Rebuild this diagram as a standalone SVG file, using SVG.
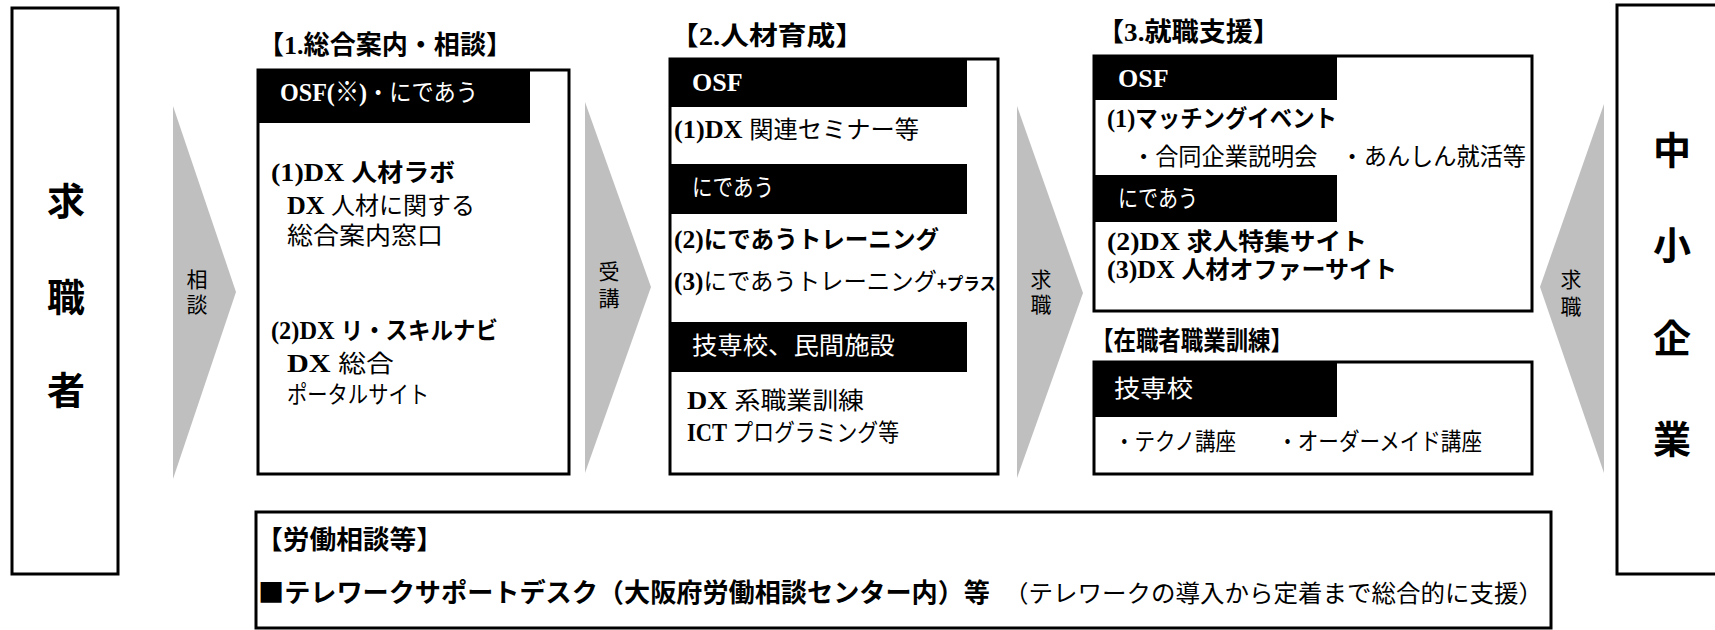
<svg xmlns="http://www.w3.org/2000/svg" width="1715" height="630" viewBox="0 0 1715 630">
<style>
.box{fill:#fff;stroke:#000;stroke-width:3}
.hdr{fill:#000}
.arrow{fill:#bfbfbf}
.t{font-family:'Noto Sans CJK JP',sans-serif;font-size:24px;fill:#000}
.b{font-weight:bold}
.s{font-family:'Liberation Serif','Noto Sans CJK JP',serif;font-weight:bold;font-size:26px}
.w{fill:#fff}
.title{font-family:'Noto Sans CJK JP',sans-serif;font-size:26px;font-weight:bold;fill:#000}
.big{font-family:'Noto Sans CJK JP',sans-serif;font-size:38px;font-weight:bold;fill:#000;text-anchor:middle}
.lbl{font-family:'Noto Sans CJK JP',sans-serif;font-size:21px;fill:#000;text-anchor:middle}
</style>
<g id="connectors">
<polygon class="arrow" points="173,106 236,292 173,479"/>
<polygon class="arrow" points="585,102 651,287 585,473"/>
<polygon class="arrow" points="1017,106 1083,293 1017,478"/>
<polygon class="arrow" points="1604,104 1540,287 1604,473"/>
<text class="lbl" x="197" y="287">相</text><text class="lbl" x="197" y="312">談</text>
<text class="lbl" x="609" y="279">受</text><text class="lbl" x="609" y="306">講</text>
<text class="lbl" x="1041" y="287">求</text><text class="lbl" x="1041" y="312">職</text>
<text class="lbl" x="1571" y="287">求</text><text class="lbl" x="1571" y="314">職</text>
</g>
<g id="jobseeker">
<rect class="box" x="12" y="8" width="106" height="566"/>
<text class="big" x="66" y="215">求</text>
<text class="big" x="66" y="311">職</text>
<text class="big" x="66" y="404">者</text>
</g>
<g id="sme">
<rect class="box" x="1617" y="5" width="110" height="569"/>
<text class="big" x="1672" y="164">中</text>
<text class="big" x="1672" y="259">小</text>
<text class="big" x="1672" y="352">企</text>
<text class="big" x="1672" y="453">業</text>
</g>
<g id="consult">
<text class="title" x="258" y="54" textLength="254" lengthAdjust="spacingAndGlyphs">【<tspan class="s">1.</tspan>総合案内・相談】</text>
<rect class="box" x="258" y="70" width="311" height="404"/>
<rect class="hdr" x="257" y="69" width="273" height="54"/>
<text class="t w" x="280" y="101" textLength="198" lengthAdjust="spacingAndGlyphs"><tspan class="s">OSF(※)</tspan>・にであう</text>
<text class="t b" x="271" y="181" textLength="184" lengthAdjust="spacingAndGlyphs"><tspan class="s">(1)DX </tspan>人材ラボ</text>
<text class="t" x="287" y="214" textLength="188" lengthAdjust="spacingAndGlyphs"><tspan class="s">DX </tspan>人材に関する</text>
<text class="t" x="287" y="244" textLength="156" lengthAdjust="spacingAndGlyphs">総合案内窓口</text>
<text class="t b" x="271" y="339" textLength="227" lengthAdjust="spacingAndGlyphs"><tspan class="s">(2)DX </tspan>リ・スキルナビ</text>
<text class="t" x="287" y="372" textLength="107" lengthAdjust="spacingAndGlyphs"><tspan class="s">DX </tspan>総合</text>
<text class="t" x="287" y="403" textLength="142" lengthAdjust="spacingAndGlyphs">ポータルサイト</text>
</g>
<g id="training">
<text class="title" x="670" y="45" textLength="194" lengthAdjust="spacingAndGlyphs">【<tspan class="s">2.</tspan>人材育成】</text>
<rect class="box" x="670" y="59" width="328" height="415"/>
<rect class="hdr" x="669" y="58" width="298" height="49"/>
<text class="t w s" x="692" y="91">OSF</text>
<text class="t" x="674" y="138" textLength="245" lengthAdjust="spacingAndGlyphs"><tspan class="s">(1)DX </tspan>関連セミナー等</text>
<rect class="hdr" x="669" y="164" width="298" height="50"/>
<text class="t w" x="692" y="196" textLength="82" lengthAdjust="spacingAndGlyphs">にであう</text>
<text class="t b" x="674" y="248" textLength="265" lengthAdjust="spacingAndGlyphs"><tspan class="s">(2)</tspan>にであうトレーニング</text>
<text class="t" x="674" y="290" textLength="322" lengthAdjust="spacingAndGlyphs"><tspan class="s">(3)</tspan>にであうトレーニング<tspan class="b" font-size="17">+プラス</tspan></text>
<rect class="hdr" x="669" y="322" width="298" height="50"/>
<text class="t w" x="692" y="354" textLength="203" lengthAdjust="spacingAndGlyphs">技専校、民間施設</text>
<text class="t" x="687" y="409" textLength="177" lengthAdjust="spacingAndGlyphs"><tspan class="s">DX </tspan>系職業訓練</text>
<text class="t" x="687" y="441" textLength="212" lengthAdjust="spacingAndGlyphs"><tspan class="s">ICT </tspan>プログラミング等</text>
</g>
<g id="employment">
<text class="title" x="1097" y="41" textLength="183" lengthAdjust="spacingAndGlyphs">【<tspan class="s">3.</tspan>就職支援】</text>
<rect class="box" x="1094" y="56" width="438" height="255"/>
<rect class="hdr" x="1093" y="55" width="244" height="45"/>
<text class="t w s" x="1118" y="87">OSF</text>
<text class="t b" x="1107" y="127" textLength="230" lengthAdjust="spacingAndGlyphs"><tspan class="s">(1)</tspan>マッチングイベント</text>
<text class="t" x="1132" y="165" textLength="394" lengthAdjust="spacingAndGlyphs">・合同企業説明会　・あんしん就活等</text>
<rect class="hdr" x="1093" y="175" width="244" height="47"/>
<text class="t w" x="1118" y="207" textLength="80" lengthAdjust="spacingAndGlyphs">にであう</text>
<text class="t b" x="1107" y="250" textLength="260" lengthAdjust="spacingAndGlyphs"><tspan class="s">(2)DX </tspan>求人特集サイト</text>
<text class="t b" x="1107" y="278" textLength="290" lengthAdjust="spacingAndGlyphs"><tspan class="s">(3)DX </tspan>人材オファーサイト</text>
</g>
<g id="incumbent">
<text class="title" x="1091" y="350" textLength="202" lengthAdjust="spacingAndGlyphs">【在職者職業訓練】</text>
<rect class="box" x="1094" y="362" width="438" height="112"/>
<rect class="hdr" x="1093" y="361" width="244" height="56"/>
<text class="t w" x="1114" y="397" textLength="79" lengthAdjust="spacingAndGlyphs">技専校</text>
<text class="t" x="1114" y="450" textLength="368" lengthAdjust="spacingAndGlyphs">・テクノ講座　　・オーダーメイド講座</text>
</g>
<g id="labor">
<rect class="box" x="256" y="512" width="1295" height="116"/>
<text class="title" x="256" y="549" textLength="187" lengthAdjust="spacingAndGlyphs">【労働相談等】</text>
<text class="title" x="258" y="602" textLength="732" lengthAdjust="spacingAndGlyphs">■テレワークサポートデスク（大阪府労働相談センター内）等</text>
<text class="t" x="1004" y="602" font-size="25" textLength="539" lengthAdjust="spacingAndGlyphs">（テレワークの導入から定着まで総合的に支援）</text>
</g>
</svg>
